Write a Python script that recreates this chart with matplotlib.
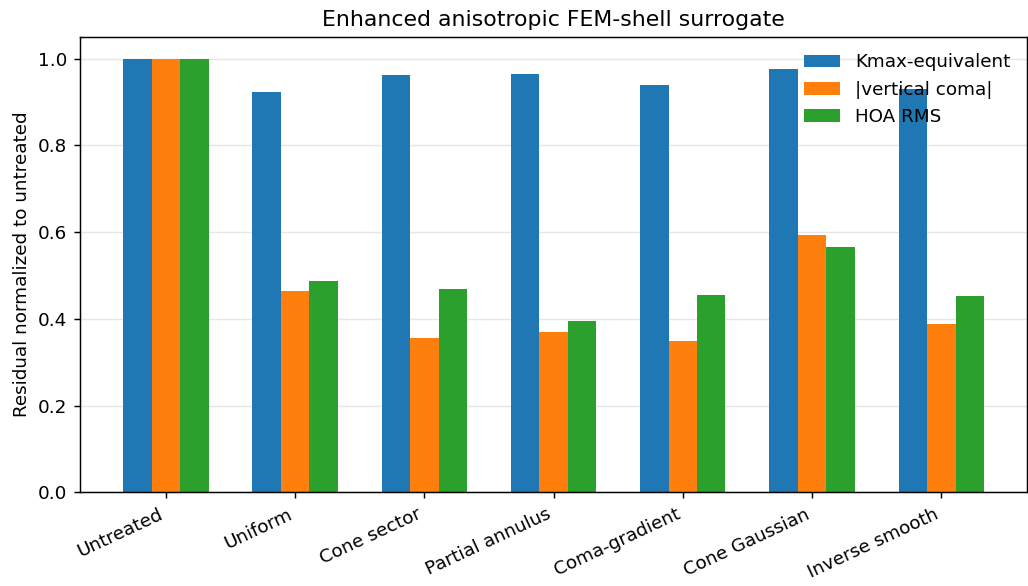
import numpy as np
import matplotlib.pyplot as plt

# Categories and normalized residuals
categories = ["Untreated", "Uniform", "Cone sector", "Partial annulus",
              "Coma-gradient", "Cone Gaussian", "Inverse smooth"]
kmax = [1.0, 0.924, 0.963, 0.965, 0.940, 0.977, 0.931]
coma = [1.0, 0.465, 0.355, 0.369, 0.348, 0.594, 0.389]
hoa = [1.0, 0.488, 0.468, 0.396, 0.456, 0.565, 0.452]

x = np.arange(len(categories))
w = 0.22

fig, ax = plt.subplots(figsize=(1028 / 132, 586 / 132), dpi=132)
ax.bar(x - w, kmax, w, label="Kmax-equivalent")
ax.bar(x, coma, w, label="|vertical coma|")
ax.bar(x + w, hoa, w, label="HOA RMS")

ax.set_xticks(x)
ax.set_xticklabels(categories, rotation=25, ha="right")
ax.set_ylabel("Residual normalized to untreated")
ax.set_title("Enhanced anisotropic FEM-shell surrogate")
ax.grid(axis="y", alpha=0.3)
ax.set_axisbelow(True)
ax.legend(frameon=False, loc="upper right")

fig.subplots_adjust(left=0.078, right=0.999, top=0.937, bottom=0.160)
fig.savefig("out.png")
